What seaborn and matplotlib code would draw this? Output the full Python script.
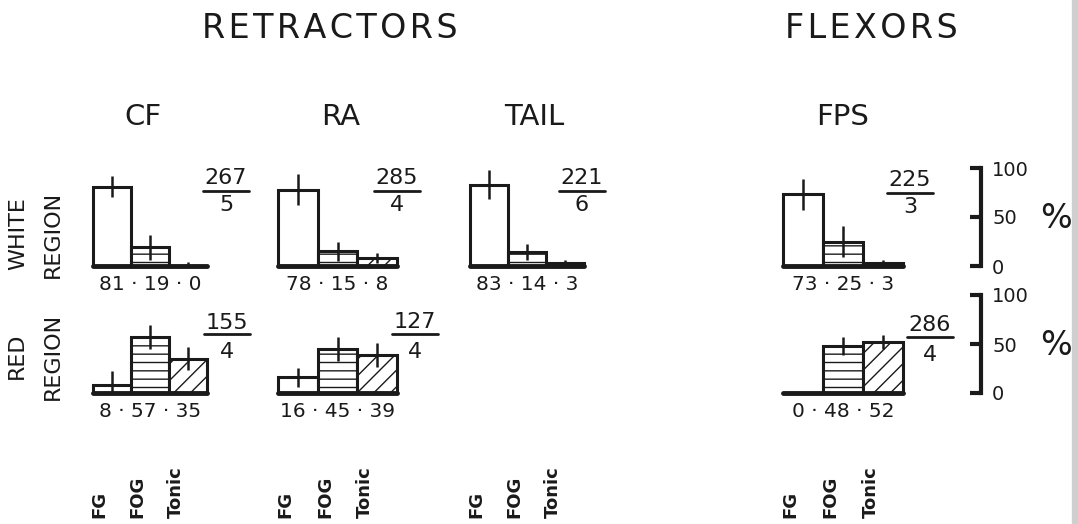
import numpy as np
import pandas as pd
import seaborn as sns
import matplotlib
matplotlib.use("Agg")
import matplotlib.pyplot as plt
from matplotlib.lines import Line2D
from matplotlib.patches import Rectangle

# ------------------------------------------------------------------
# data (percent of units per fibre type, mean +/- error, n units / n animals)
# ------------------------------------------------------------------
categories = ["FG", "FOG", "Tonic"]
muscles = ["CF", "RA", "TAIL", "FPS"]

white_cf = [81, 19, 0]
white_ra = [78, 15, 8]
white_tail = [83, 14, 3]
white_fps = [73, 25, 3]
white_cf_err = [11, 13, 4]
white_ra_err = [16, 10, 5]
white_tail_err = [15, 8, 3]
white_fps_err = [16, 16, 3]
white_units = [267, 285, 221, 225]
white_animals = [5, 4, 6, 3]

red_cf = [8, 57, 35]
red_ra = [16, 45, 39]
red_fps = [0, 48, 52]
red_cf_err = [14, 12, 12]
red_ra_err = [10, 12, 12]
red_fps_err = [0, 9, 7]
red_units = [155, 127, 286]
red_animals = [4, 4, 4]
red_muscles = ["CF", "RA", "FPS"]

scale_ticks = [0, 50, 100]

# ------------------------------------------------------------------
# layout, in pixels of the 1078 x 524 output
# ------------------------------------------------------------------
W, H = 1078, 524
H100 = 98                      # pixels for 100 %
panel_x = {"CF": (93, 207), "RA": (278, 397), "TAIL": (470, 584), "FPS": (783, 903)}
base_white, base_red = 266, 393
frac_white = {"CF": (226, 178, 191, 205), "RA": (397, 178, 191, 205),
              "TAIL": (582, 178, 191, 205), "FPS": (910, 180, 193, 207)}
frac_red = {"CF": (227, 323, 334, 352), "RA": (415, 322, 334, 352),
            "FPS": (930, 325, 337, 355)}
title_shift = {"CF": -7, "RA": 3, "TAIL": 7, "FPS": 0}
hatches = ["", "--", "//"]
ink = "#1a1a1a"
hair = "\u200a"

sns.set_style("white")
plt.rcParams["font.family"] = ["DejaVu Sans"]
plt.rcParams["hatch.linewidth"] = 1.0
plt.rcParams["hatch.color"] = ink

fig = plt.figure(figsize=(W / 100, H / 100), dpi=100)
fig.patch.set_facecolor("white")


def fx(x):
    return x / W


def fy(y):
    return 1 - y / H


def spaced(s):
    return hair.join(s)


def draw_panel(name, base, vals, errs):
    left, right = panel_x[name]
    ax = fig.add_axes([fx(left), fy(base), (right - left) / W, H100 / H])
    df = pd.DataFrame({"type": categories, "pct": vals})
    sns.barplot(data=df, x="type", y="pct", ax=ax, width=1.0, color="white",
                saturation=1, edgecolor=ink, linewidth=2.2, errorbar=None)
    for patch, h in zip(ax.patches, hatches):
        patch.set_hatch(h)
        patch.set_clip_on(False)
    lo = np.array(vals) - np.array(errs)
    hi = np.array(vals) + np.array(errs)
    ax.vlines(np.arange(3), np.clip(lo, 0, None), hi, color=ink, lw=1.8, clip_on=False)
    ax.axhline(0, color=ink, lw=3.5, clip_on=False)
    ax.set_xlim(-0.5, 2.5)
    ax.set_ylim(0, 100)
    ax.set_axis_off()
    ax.annotate(" · ".join(str(v) for v in vals), xy=(0.5, 0), xycoords="axes fraction",
                xytext=(0, -13), textcoords="offset points", ha="center", va="center",
                fontsize=14.5, color=ink)
    return ax


def draw_fraction(pos, units, animals):
    x, y_num, y_line, y_den = pos
    fig.text(fx(x), fy(y_num), str(units), ha="center", va="center", fontsize=16, color=ink)
    fig.text(fx(x), fy(y_den), str(animals), ha="center", va="center", fontsize=16, color=ink)
    fig.add_artist(Line2D([fx(x - 23), fx(x + 23)], [fy(y_line), fy(y_line)],
                          color=ink, lw=2))


def draw_scale(base):
    sax = fig.add_axes([fx(975), fy(base), fx(6), H100 / H])
    sax.set_facecolor("none")
    sax.set_ylim(0, 100)
    for s in ["left", "top", "bottom"]:
        sax.spines[s].set_visible(False)
    sax.spines["right"].set_linewidth(3)
    sax.spines["right"].set_color(ink)
    sax.yaxis.tick_right()
    sax.set_yticks(scale_ticks)
    sax.set_yticklabels([str(t) for t in scale_ticks])
    sax.set_xticks([])
    sax.tick_params(axis="y", direction="in", length=8, width=3, pad=8,
                    labelsize=14, colors=ink)
    sax.annotate("%", xy=(1, 48), xycoords=("axes fraction", "data"),
                 xytext=(54, 0), textcoords="offset points", ha="center", va="center",
                 fontsize=24, color=ink)


white_vals = [white_cf, white_ra, white_tail, white_fps]
white_errs = [white_cf_err, white_ra_err, white_tail_err, white_fps_err]
red_vals = [red_cf, red_ra, red_fps]
red_errs = [red_cf_err, red_ra_err, red_fps_err]

for name, vals, errs, n, a in zip(muscles, white_vals, white_errs, white_units, white_animals):
    ax = draw_panel(name, base_white, vals, errs)
    ax.annotate(name, xy=(0.5, 1), xycoords="axes fraction",
                xytext=(title_shift[name] * 0.72, 37), textcoords="offset points",
                ha="center", va="center", fontsize=21, color=ink)
    draw_fraction(frac_white[name], n, a)
    for i, cat in enumerate(categories):
        ax.annotate(cat, xy=(i, 0.012), xycoords=("data", "figure fraction"),
                    xytext=(-9, 0), textcoords="offset points", rotation=90,
                    ha="center", va="bottom", fontsize=13, fontweight="bold", color=ink)

for name, vals, errs, n, a in zip(red_muscles, red_vals, red_errs, red_units, red_animals):
    draw_panel(name, base_red, vals, errs)
    draw_fraction(frac_red[name], n, a)

draw_scale(base_white)
draw_scale(base_red)

# group and row headings
fig.text(fx(330), fy(28), spaced("RETRACTORS"), ha="center", va="center", fontsize=24, color=ink)
fig.text(fx(871), fy(28), spaced("FLEXORS"), ha="center", va="center", fontsize=24, color=ink)
fig.text(fx(18), fy(234), "WHITE", rotation=90, ha="center", va="center", fontsize=16, color=ink)
fig.text(fx(53), fy(234), "REGION", rotation=90, ha="center", va="center", fontsize=16, color=ink)
fig.text(fx(17), fy(356), "RED", rotation=90, ha="center", va="center", fontsize=16, color=ink)
fig.text(fx(53), fy(356), "REGION", rotation=90, ha="center", va="center", fontsize=16, color=ink)

# grey edge of the scanned page
fig.patches.append(Rectangle((fx(1072), 0), fx(6), 1, transform=fig.transFigure,
                             color="#cfcfcf", zorder=0))

fig.savefig("out.png", dpi=100)
